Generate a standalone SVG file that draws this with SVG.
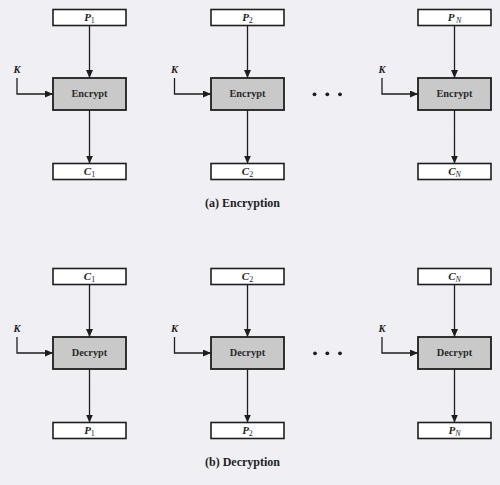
<svg xmlns="http://www.w3.org/2000/svg" width="500" height="485" viewBox="0 0 500 485">
<defs>
<marker id="ah" markerUnits="userSpaceOnUse" markerWidth="9" markerHeight="8" refX="8" refY="3.5" orient="auto">
<path d="M0,0 L8,3.5 L0,7 z" fill="#1e1e1e"/>
</marker>
<filter id="tex" x="0" y="0" width="100%" height="100%">
<feTurbulence type="fractalNoise" baseFrequency="0.9" numOctaves="2" seed="3" result="n"/>
<feColorMatrix in="n" type="matrix" values="0 0 0 0 0.85  0 0 0 0 0.85  0 0 0 0 0.9  0 0 0 0.25 0" result="c"/>
<feComposite in="c" in2="SourceGraphic" operator="in"/>
</filter>
</defs>
<style>
.io{fill:#ffffff;stroke:#1e1e1e;stroke-width:1.6}
.op{fill:#c9c9c9;stroke:#1e1e1e;stroke-width:1.8}
.ln{fill:none;stroke:#1e1e1e;stroke-width:1.3;marker-end:url(#ah)}
.lb{font-family:"Liberation Serif",serif;font-size:11px;font-style:italic;font-weight:bold;fill:#1e1e1e;text-anchor:middle}
.sb{font-size:8px;font-style:normal;font-weight:normal}
.si{font-size:8px;font-style:italic;font-weight:normal}
.op-t{font-family:"Liberation Serif",serif;font-size:10.3px;font-weight:bold;fill:#2a2a2a;text-anchor:middle}
.k{font-family:"Liberation Serif",serif;font-size:10.5px;font-style:italic;font-weight:bold;fill:#1e1e1e;text-anchor:middle}
.cap{font-family:"Liberation Serif",serif;font-size:12px;font-weight:bold;fill:#1e1e1e;text-anchor:middle}
.dot{fill:#1e1e1e}
</style>
<rect width="500" height="485" fill="#efeff4"/>
<rect width="500" height="485" fill="#efeff4" filter="url(#tex)"/>

<g id="connectors">
<path class="ln" d="M89.5,25.5 V78"/>
<path class="ln" d="M89.5,110 V163.5"/>
<path class="ln" d="M17,78 V94 H53"/>
<path class="ln" d="M247.5,25.5 V78"/>
<path class="ln" d="M247.5,110 V163.5"/>
<path class="ln" d="M174.5,78 V94 H211"/>
<path class="ln" d="M454.5,25.5 V78"/>
<path class="ln" d="M454.5,110 V163.5"/>
<path class="ln" d="M382,78 V94 H418"/>

<path class="ln" d="M89.5,284.5 V337"/>
<path class="ln" d="M89.5,369 V422.5"/>
<path class="ln" d="M17,337 V353 H53"/>
<path class="ln" d="M247.5,284.5 V337"/>
<path class="ln" d="M247.5,369 V422.5"/>
<path class="ln" d="M174.5,337 V353 H211"/>
<path class="ln" d="M454.5,284.5 V337"/>
<path class="ln" d="M454.5,369 V422.5"/>
<path class="ln" d="M382,337 V353 H418"/>
</g>

<g id="enc1">
<rect class="io" x="53" y="9.5" width="73" height="16"/>
<text class="lb" x="89.5" y="21">P<tspan class="sb" dy="1.5">1</tspan></text>
<text class="k" x="17" y="73">K</text>
<rect class="op" x="53" y="78" width="73" height="32"/>
<text class="op-t" x="89.5" y="97">Encrypt</text>
<rect class="io" x="53" y="163.5" width="73" height="16"/>
<text class="lb" x="89.5" y="175">C<tspan class="sb" dy="1.5">1</tspan></text>
</g>
<g id="enc2">
<rect class="io" x="211" y="9.5" width="73" height="16"/>
<text class="lb" x="247.5" y="21">P<tspan class="sb" dy="1.5">2</tspan></text>
<text class="k" x="174.5" y="73">K</text>
<rect class="op" x="211" y="78" width="73" height="32"/>
<text class="op-t" x="247.5" y="97">Encrypt</text>
<rect class="io" x="211" y="163.5" width="73" height="16"/>
<text class="lb" x="247.5" y="175">C<tspan class="sb" dy="1.5">2</tspan></text>
</g>
<g id="encN">
<rect class="io" x="418" y="9.5" width="73" height="16"/>
<text class="lb" x="454.5" y="21">P<tspan class="si" dx="1.5" dy="1.5">N</tspan></text>
<text class="k" x="382" y="73">K</text>
<rect class="op" x="418" y="78" width="73" height="32"/>
<text class="op-t" x="454.5" y="97">Encrypt</text>
<rect class="io" x="418" y="163.5" width="73" height="16"/>
<text class="lb" x="454.5" y="175">C<tspan class="si" dy="1.5">N</tspan></text>
</g>
<g id="encDots">
<circle class="dot" cx="314.5" cy="94.3" r="1.9"/>
<circle class="dot" cx="327.3" cy="94.3" r="1.9"/>
<circle class="dot" cx="340" cy="94.3" r="1.9"/>
</g>
<text id="capA" class="cap" x="242.5" y="207">(a) Encryption</text>

<g id="dec1">
<rect class="io" x="53" y="268.5" width="73" height="16"/>
<text class="lb" x="89.5" y="280">C<tspan class="sb" dy="1.5">1</tspan></text>
<text class="k" x="17" y="332">K</text>
<rect class="op" x="53" y="337" width="73" height="32"/>
<text class="op-t" x="89.5" y="356">Decrypt</text>
<rect class="io" x="53" y="422.5" width="73" height="16"/>
<text class="lb" x="89.5" y="434">P<tspan class="sb" dy="1.5">1</tspan></text>
</g>
<g id="dec2">
<rect class="io" x="211" y="268.5" width="73" height="16"/>
<text class="lb" x="247.5" y="280">C<tspan class="sb" dy="1.5">2</tspan></text>
<text class="k" x="174.5" y="332">K</text>
<rect class="op" x="211" y="337" width="73" height="32"/>
<text class="op-t" x="247.5" y="356">Decrypt</text>
<rect class="io" x="211" y="422.5" width="73" height="16"/>
<text class="lb" x="247.5" y="434">P<tspan class="sb" dy="1.5">2</tspan></text>
</g>
<g id="decN">
<rect class="io" x="418" y="268.5" width="73" height="16"/>
<text class="lb" x="454.5" y="280">C<tspan class="si" dy="1.5">N</tspan></text>
<text class="k" x="382" y="332">K</text>
<rect class="op" x="418" y="337" width="73" height="32"/>
<text class="op-t" x="454.5" y="356">Decrypt</text>
<rect class="io" x="418" y="422.5" width="73" height="16"/>
<text class="lb" x="454.5" y="434">P<tspan class="si" dy="1.5">N</tspan></text>
</g>
<g id="decDots">
<circle class="dot" cx="315" cy="353.3" r="1.9"/>
<circle class="dot" cx="327.3" cy="353.3" r="1.9"/>
<circle class="dot" cx="340" cy="353.3" r="1.9"/>
</g>
<text id="capB" class="cap" x="242.5" y="466">(b) Decryption</text>
</svg>
